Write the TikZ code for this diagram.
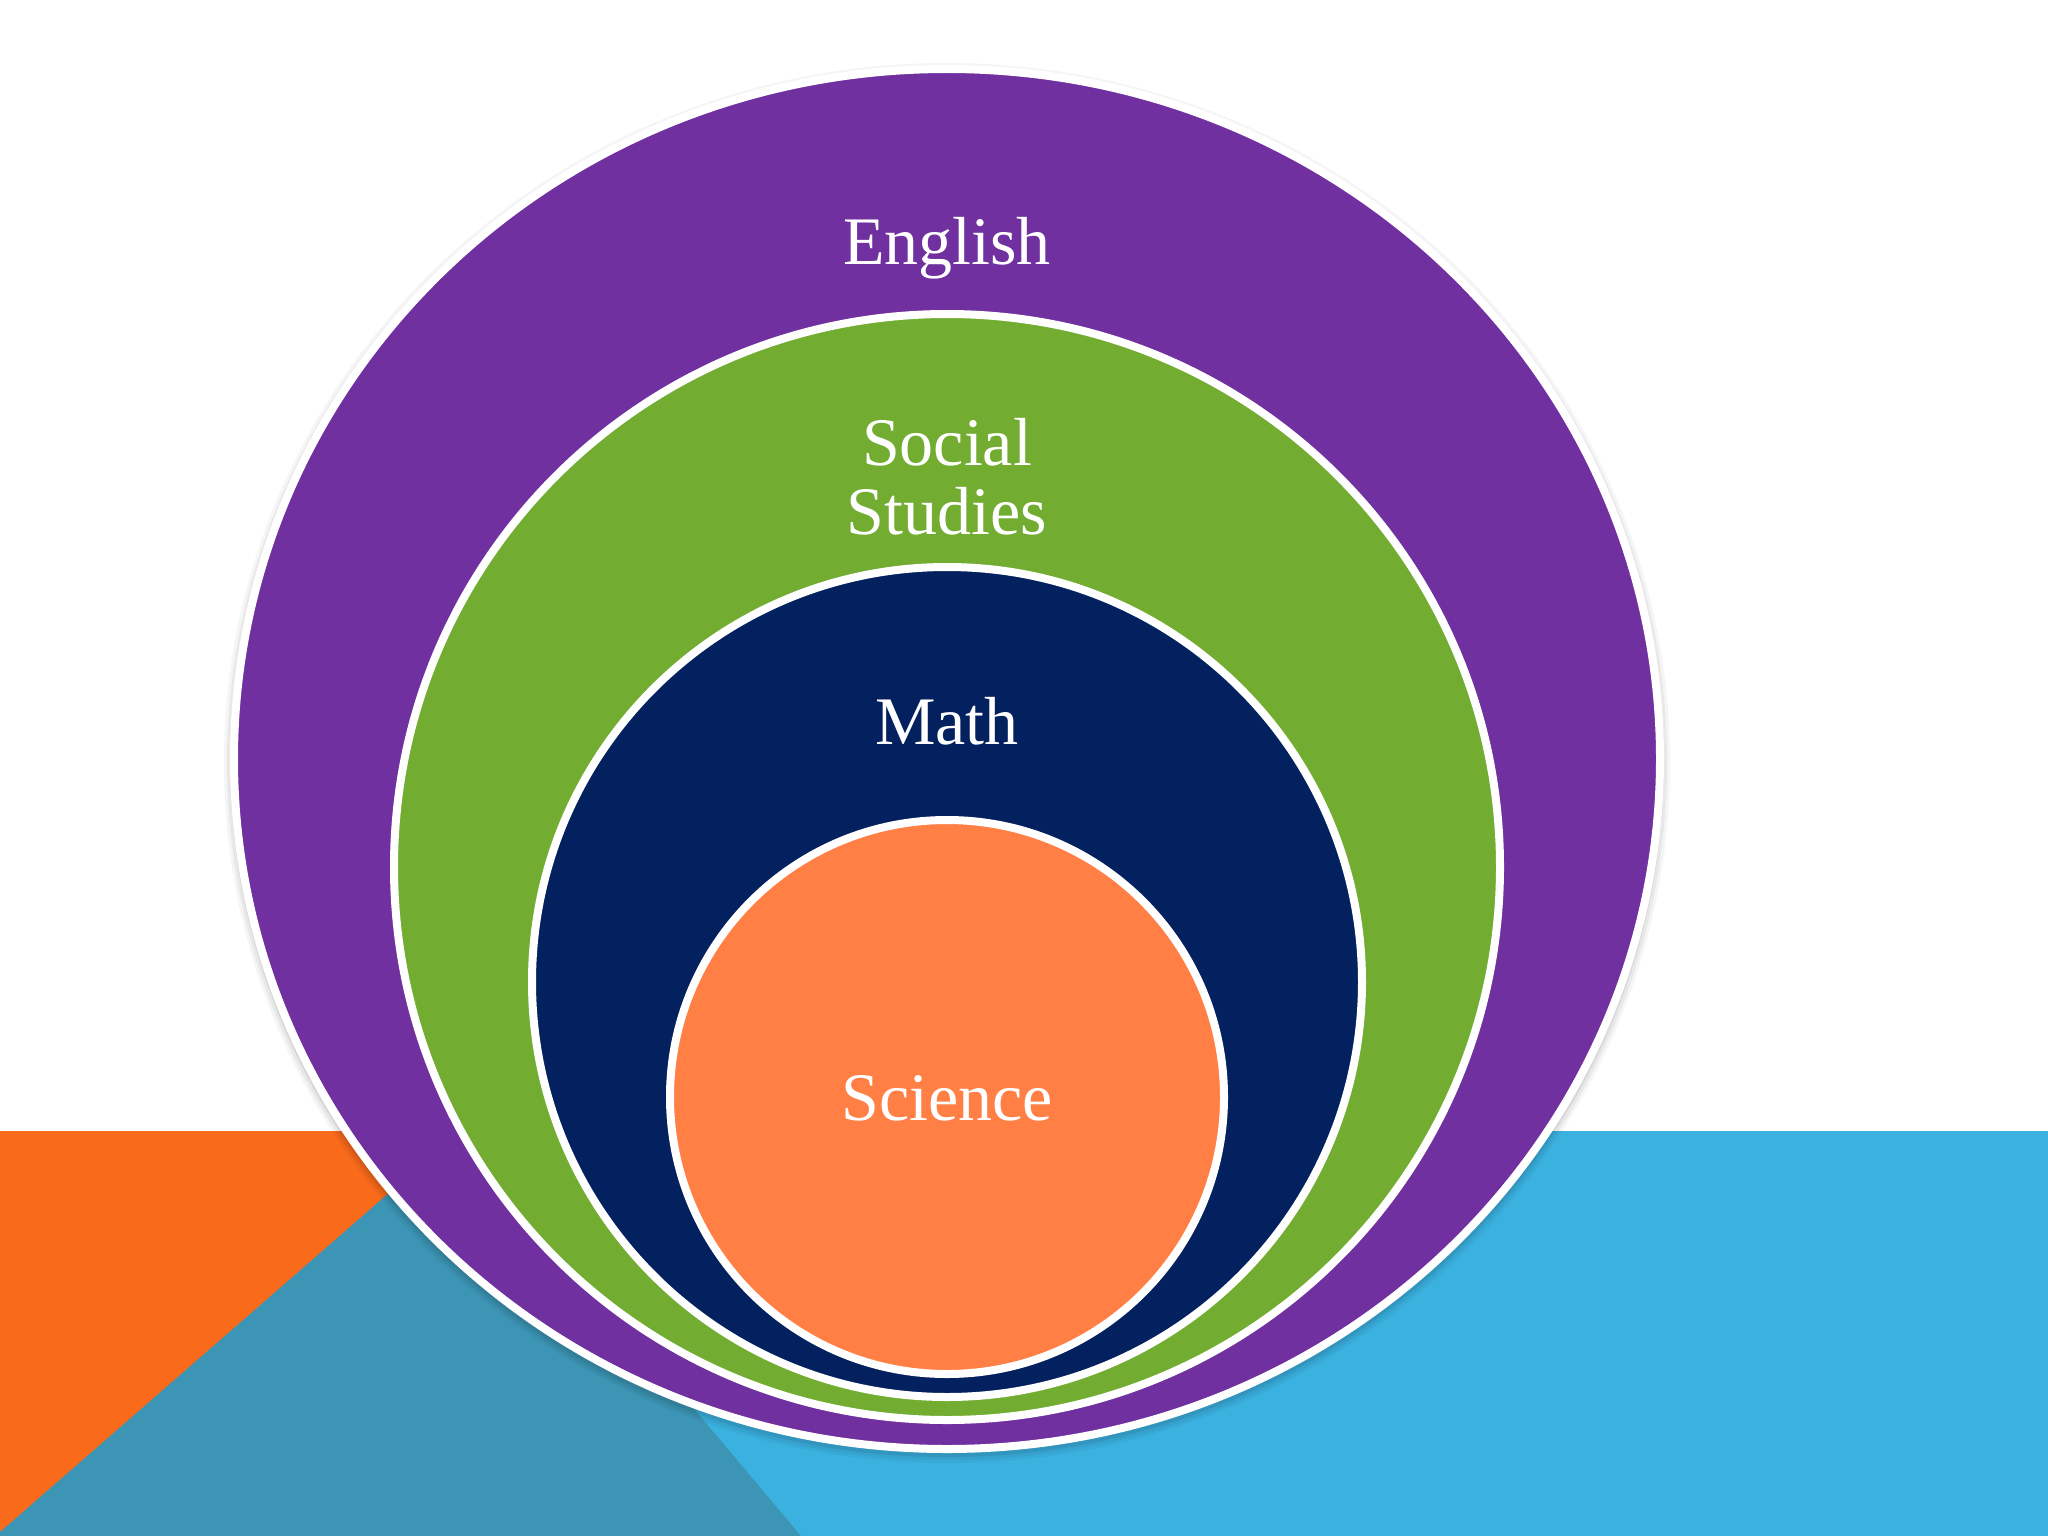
\documentclass[tikz,border=0pt]{standalone}
\usepackage{fontspec}
\setmainfont{Liberation Serif}
\definecolor{cpurple}{HTML}{7030A0}
\definecolor{cgreen}{HTML}{72AD32}
\definecolor{cnavy}{HTML}{03205F}
\definecolor{corange}{HTML}{FF7F45}
\definecolor{bandorange}{HTML}{F96A1B}
\definecolor{bandteal}{HTML}{3C95B5}
\definecolor{bandblue}{HTML}{3BB1E0}
\tikzset{
  ring/.style={draw=white, line width=8pt},
  label/.style={text=white, anchor=base, font=\fontsize{68}{68}\selectfont, inner sep=0pt}
}
\begin{document}
\begin{tikzpicture}[x=1pt,y=-1pt]
\useasboundingbox (0,0) rectangle (2048,1536);
% background
\fill[white] (0,0) rectangle (2048,1536);
\fill[bandblue] (0,1131) rectangle (2048,1536);
\fill[bandorange] (0,1131) -- (700,1131) -- (460,1300) -- (0,1532) -- cycle;
\fill[bandteal] (0,1532) -- (460,1131) -- (801,1536) -- (0,1536) -- cycle;
% soft shadow
\foreach \d/\o in {10/0.04,7/0.05,4/0.07}
  \fill[black, opacity=\o] (947,763) ellipse [x radius=713+\d, y radius=690+\d];
% rings
\filldraw[ring, fill=cpurple] (947,759) ellipse [x radius=713, y radius=690];
\filldraw[ring, fill=cgreen] (947,867) circle [radius=553];
\filldraw[ring, fill=cnavy] (947,982) circle [radius=415];
\filldraw[ring, fill=corange] (947,1097) circle [radius=277];
% labels
\node[label] (english) at (947,264) {English};
\node[label] (social) at (947,465) {Social};
\node[label] (studies) at (947,534) {Studies};
\node[label] (math) at (947,744) {Math};
\node[label] (science) at (947,1120) {Science};
\end{tikzpicture}
\end{document}
